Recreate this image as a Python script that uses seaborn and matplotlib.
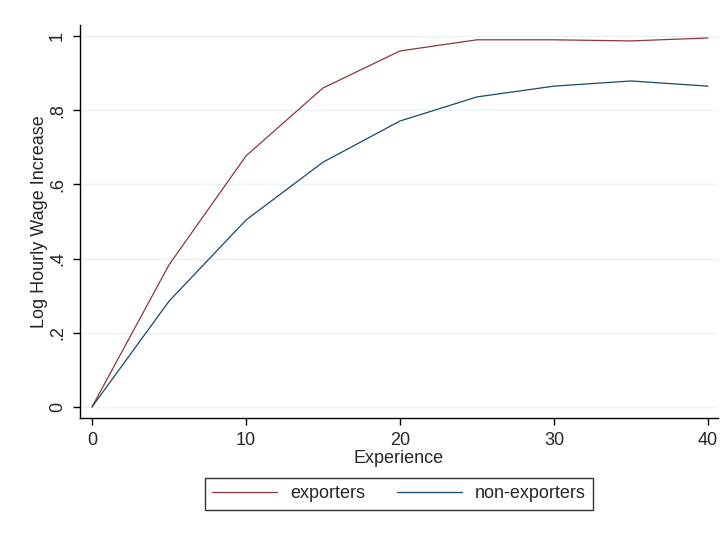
import matplotlib.pyplot as plt
import seaborn as sns
import pandas as pd

experience = [0, 5, 10, 15, 20, 25, 30, 35, 40]
exporters = [0.0, 0.383, 0.677, 0.86, 0.96, 0.99, 0.99, 0.987, 0.995]
non_exporters = [0.0, 0.285, 0.504, 0.66, 0.771, 0.836, 0.865, 0.879, 0.865]

df = pd.DataFrame({
    "Experience": experience * 2,
    "wage": exporters + non_exporters,
    "group": ["exporters"] * len(experience) + ["non-exporters"] * len(experience),
})

sns.set_style("white")
plt.rcParams["font.family"] = ["Liberation Sans", "DejaVu Sans"]
plt.rcParams["font.size"] = 13

fig = plt.figure(figsize=(7.28, 5.36), dpi=100)
ax = fig.add_axes([0.1099, 0.2201, 0.8763, 0.7333])

sns.lineplot(data=df, x="Experience", y="wage", hue="group",
             palette={"exporters": "#90353b", "non-exporters": "#1a476f"},
             linewidth=0.9, ax=ax)

ax.set_xlim(-0.78, 40.65)
ax.set_ylim(-0.03, 1.03)
ax.set_xticks([0, 10, 20, 30, 40])
ax.set_yticks([0, 0.2, 0.4, 0.6, 0.8, 1.0])
ax.set_yticklabels(["0", ".2", ".4", ".6", ".8", "1"], rotation=90, va="center")
ax.grid(axis="y", color="#eaf2f3", linewidth=1)
ax.set_axisbelow(True)
for side in ["top", "right"]:
    ax.spines[side].set_visible(False)
for side in ["left", "bottom"]:
    ax.spines[side].set_color("black")
    ax.spines[side].set_linewidth(1)
ax.tick_params(direction="out", length=5, width=1, color="black", labelsize=13, pad=5, left=True, bottom=True)
ax.set_xlabel("Experience", fontsize=13, labelpad=1)
ax.set_ylabel("Log Hourly Wage Increase", fontsize=13, labelpad=1)

ax.legend(title=None, loc="upper center", bbox_to_anchor=(0.5, -0.13), ncol=2,
          frameon=True, fancybox=False, edgecolor="black", fontsize=13,
          handlelength=3.6, handletextpad=0.7, columnspacing=1.8, borderpad=0.4)
ax.get_legend().get_frame().set_linewidth(1)

fig.savefig("out.png", dpi=100)
